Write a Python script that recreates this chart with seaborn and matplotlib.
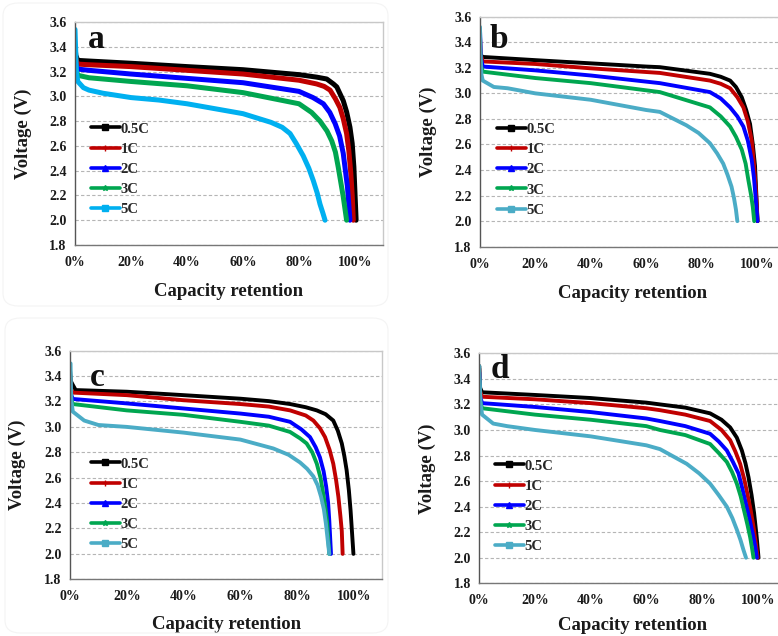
import matplotlib
matplotlib.use("Agg")
import matplotlib.pyplot as plt
import seaborn as sns
import pandas as pd
from matplotlib.lines import Line2D
from matplotlib.patches import FancyBboxPatch

# ---------------- data ----------------
rates = ["0.5C", "1C", "2C", "3C", "5C"]

A_x_05 = [0, 0.003, 0.01, 0.05, 0.2, 0.4, 0.6, 0.8, 0.863, 0.899, 0.923, 0.935, 0.958, 0.97, 0.982, 0.99, 0.996, 1.004]
A_v_05 = [3.40, 3.33, 3.29, 3.285, 3.267, 3.24, 3.215, 3.175, 3.155, 3.14, 3.10, 3.076, 2.965, 2.875, 2.75, 2.62, 2.43, 2.0]
A_x_1 = [0, 0.003, 0.01, 0.05, 0.2, 0.4, 0.6, 0.8, 0.863, 0.89, 0.911, 0.93, 0.946, 0.958, 0.97, 0.978, 0.985, 0.99, 0.994]
A_v_1 = [3.37, 3.30, 3.26, 3.255, 3.24, 3.21, 3.18, 3.13, 3.10, 3.08, 3.05, 2.98, 2.91, 2.82, 2.70, 2.56, 2.38, 2.20, 2.0]
A_x_2 = [0, 0.003, 0.01, 0.05, 0.2, 0.4, 0.6, 0.8, 0.85, 0.887, 0.91, 0.929, 0.945, 0.958, 0.973, 0.982]
A_v_2 = [3.33, 3.26, 3.22, 3.21, 3.18, 3.145, 3.11, 3.04, 2.99, 2.94, 2.87, 2.78, 2.68, 2.54, 2.27, 2.0]
A_x_3 = [0, 0.003, 0.01, 0.05, 0.2, 0.4, 0.6, 0.8, 0.845, 0.875, 0.90, 0.917, 0.93, 0.94, 0.958, 0.97]
A_v_3 = [3.32, 3.22, 3.17, 3.15, 3.12, 3.085, 3.03, 2.94, 2.87, 2.80, 2.72, 2.64, 2.55, 2.43, 2.19, 2.0]
A_x_5 = [0, 0.002, 0.005, 0.01, 0.03, 0.05, 0.1, 0.2, 0.3, 0.4, 0.5, 0.6, 0.7, 0.74, 0.768, 0.79, 0.815, 0.835, 0.851, 0.865, 0.875, 0.885, 0.893]
A_v_5 = [3.54, 3.40, 3.20, 3.12, 3.07, 3.05, 3.025, 2.99, 2.97, 2.94, 2.90, 2.86, 2.79, 2.75, 2.70, 2.62, 2.52, 2.42, 2.32, 2.22, 2.13, 2.06, 2.0]

B_x_05 = [0, 0.003, 0.01, 0.2, 0.4, 0.6, 0.65, 0.831, 0.87, 0.904, 0.925, 0.946, 0.962, 0.976, 0.986, 0.994, 1.003]
B_v_05 = [3.33, 3.30, 3.285, 3.26, 3.235, 3.21, 3.205, 3.153, 3.13, 3.10, 3.05, 2.97, 2.87, 2.76, 2.60, 2.43, 2.0]
B_x_1 = [0, 0.003, 0.01, 0.2, 0.4, 0.65, 0.831, 0.87, 0.904, 0.93, 0.952, 0.968, 0.982, 0.99, 0.997, 1.003]
B_v_1 = [3.45, 3.30, 3.25, 3.23, 3.196, 3.16, 3.10, 3.075, 3.04, 2.97, 2.89, 2.78, 2.63, 2.45, 2.24, 2.0]
B_x_2 = [0, 0.003, 0.01, 0.2, 0.4, 0.65, 0.831, 0.87, 0.904, 0.93, 0.952, 0.968, 0.982, 0.99, 0.996, 1.003]
B_v_2 = [3.50, 3.28, 3.21, 3.18, 3.14, 3.08, 3.01, 2.96, 2.89, 2.82, 2.74, 2.63, 2.48, 2.34, 2.19, 2.0]
B_x_3 = [0, 0.003, 0.01, 0.2, 0.4, 0.65, 0.831, 0.87, 0.904, 0.925, 0.946, 0.96, 0.97, 0.98, 0.986, 0.991]
B_v_3 = [3.35, 3.22, 3.17, 3.12, 3.08, 3.01, 2.89, 2.82, 2.74, 2.66, 2.56, 2.45, 2.32, 2.20, 2.11, 2.0]
B_x_5 = [0, 0.002, 0.005, 0.01, 0.05, 0.1, 0.2, 0.4, 0.6, 0.65, 0.746, 0.79, 0.831, 0.857, 0.879, 0.895, 0.909, 0.918, 0.925, 0.930]
B_v_5 = [3.52, 3.30, 3.15, 3.10, 3.05, 3.04, 3.0, 2.95, 2.87, 2.855, 2.75, 2.69, 2.61, 2.53, 2.45, 2.36, 2.27, 2.18, 2.09, 2.0]

C_x_05 = [0, 0.003, 0.01, 0.02, 0.2, 0.4, 0.6, 0.7, 0.775, 0.83, 0.869, 0.9, 0.927, 0.943, 0.957, 0.966, 0.974, 0.982, 0.988, 0.998]
C_v_05 = [3.45, 3.36, 3.33, 3.29, 3.277, 3.25, 3.222, 3.203, 3.18, 3.155, 3.13, 3.10, 3.05, 2.97, 2.87, 2.77, 2.66, 2.50, 2.34, 2.0]
C_x_1 = [0, 0.003, 0.01, 0.2, 0.4, 0.6, 0.7, 0.775, 0.83, 0.857, 0.88, 0.898, 0.914, 0.927, 0.937, 0.945, 0.952, 0.957, 0.960]
C_v_1 = [3.40, 3.30, 3.27, 3.25, 3.21, 3.18, 3.16, 3.13, 3.09, 3.05, 2.99, 2.92, 2.82, 2.71, 2.58, 2.45, 2.30, 2.18, 2.0]
C_x_2 = [0, 0.003, 0.01, 0.2, 0.4, 0.6, 0.7, 0.775, 0.815, 0.845, 0.865, 0.880, 0.893, 0.902, 0.909, 0.913, 0.919]
C_v_2 = [3.35, 3.26, 3.22, 3.185, 3.145, 3.105, 3.08, 3.04, 2.98, 2.92, 2.84, 2.76, 2.65, 2.53, 2.40, 2.26, 2.0]
C_x_3 = [0, 0.003, 0.01, 0.2, 0.4, 0.6, 0.7, 0.775, 0.81, 0.833, 0.853, 0.869, 0.882, 0.892, 0.9, 0.906, 0.913]
C_v_3 = [3.30, 3.22, 3.18, 3.13, 3.095, 3.04, 3.01, 2.96, 2.91, 2.87, 2.80, 2.71, 2.60, 2.47, 2.35, 2.24, 2.0]
C_x_5 = [0.002, 0.003, 0.005, 0.01, 0.05, 0.1, 0.2, 0.4, 0.6, 0.716, 0.77, 0.810, 0.835, 0.857, 0.872, 0.884, 0.894, 0.901, 0.907, 0.913]
C_v_5 = [3.50, 3.35, 3.20, 3.12, 3.05, 3.015, 3.0, 2.955, 2.90, 2.83, 2.78, 2.72, 2.67, 2.61, 2.54, 2.45, 2.35, 2.24, 2.12, 2.0]

D_x_05 = [0, 0.003, 0.01, 0.2, 0.4, 0.6, 0.649, 0.74, 0.829, 0.87, 0.901, 0.925, 0.943, 0.956, 0.967, 0.978, 0.987, 0.996, 1.003]
D_v_05 = [3.50, 3.33, 3.295, 3.274, 3.25, 3.214, 3.20, 3.175, 3.13, 3.08, 3.02, 2.94, 2.84, 2.74, 2.63, 2.49, 2.35, 2.17, 2.0]
D_x_1 = [0, 0.003, 0.01, 0.2, 0.4, 0.6, 0.649, 0.74, 0.829, 0.87, 0.901, 0.92, 0.937, 0.951, 0.963, 0.975, 0.985, 0.993, 1.0]
D_v_1 = [3.48, 3.30, 3.26, 3.24, 3.21, 3.17, 3.155, 3.12, 3.07, 3.00, 2.92, 2.83, 2.735, 2.62, 2.50, 2.37, 2.24, 2.12, 2.0]
D_x_2 = [0, 0.003, 0.01, 0.2, 0.4, 0.6, 0.649, 0.74, 0.829, 0.86, 0.889, 0.911, 0.931, 0.945, 0.958, 0.971, 0.982, 0.991, 0.997]
D_v_2 = [3.45, 3.26, 3.21, 3.18, 3.14, 3.09, 3.07, 3.03, 2.97, 2.91, 2.84, 2.75, 2.66, 2.54, 2.42, 2.30, 2.19, 2.09, 2.0]
D_x_3 = [0, 0.003, 0.01, 0.2, 0.4, 0.6, 0.649, 0.74, 0.829, 0.86, 0.889, 0.908, 0.925, 0.939, 0.951, 0.963, 0.973, 0.98, 0.985]
D_v_3 = [3.40, 3.22, 3.17, 3.12, 3.08, 3.03, 3.0, 2.96, 2.89, 2.82, 2.75, 2.67, 2.58, 2.48, 2.37, 2.26, 2.16, 2.07, 2.0]
D_x_5 = [0, 0.002, 0.005, 0.01, 0.05, 0.1, 0.2, 0.4, 0.6, 0.649, 0.745, 0.79, 0.829, 0.86, 0.889, 0.909, 0.925, 0.938, 0.949, 0.958]
D_v_5 = [3.50, 3.35, 3.20, 3.12, 3.05, 3.03, 3.0, 2.95, 2.88, 2.85, 2.735, 2.66, 2.58, 2.49, 2.40, 2.31, 2.22, 2.14, 2.06, 2.0]

y_ticks = [1.8, 2.0, 2.2, 2.4, 2.6, 2.8, 3.0, 3.2, 3.4, 3.6]
x_ticks = [0, 0.2, 0.4, 0.6, 0.8, 1.0]
x_tick_labels = ["0%", "20%", "40%", "60%", "80%", "100%"]
panel_letters = ["a", "b", "c", "d"]

# ---------------- style ----------------
sns.set_theme(style="white")
plt.rcParams["font.family"] = ["Liberation Serif", "DejaVu Serif"]
plt.rcParams["font.weight"] = "bold"

W, H = 778, 636
fig = plt.figure(figsize=(W / 100, H / 100), dpi=100)

colors_std = ["#000000", "#c00000", "#0000ff", "#00a650", "#4bacc6"]
colors_a = ["#000000", "#c00000", "#0000ff", "#00a650", "#00b0f0"]
markers = ["s", "+", "^", "*", "s"]

panels = [
    dict(data=[(A_x_05, A_v_05), (A_x_1, A_v_1), (A_x_2, A_v_2), (A_x_3, A_v_3), (A_x_5, A_v_5)],
         geom=(75, 280, 22, 245), colors=colors_a, lw=3.6,
         letter=(0.045, 3.39), leg=(0.056, 2.79), xlab=-0.17),
    dict(data=[(B_x_05, B_v_05), (B_x_1, B_v_1), (B_x_2, B_v_2), (B_x_3, B_v_3), (B_x_5, B_v_5)],
         geom=(480, 276.7, 16.7, 246.7), colors=colors_std, lw=2.8,
         letter=(0.035, 3.355), leg=(0.06, 2.77), xlab=-0.165),
    dict(data=[(C_x_05, C_v_05), (C_x_1, C_v_1), (C_x_2, C_v_2), (C_x_3, C_v_3), (C_x_5, C_v_5)],
         geom=(70, 284, 350.7, 579.3), colors=colors_std, lw=2.8,
         letter=(0.07, 3.32), leg=(0.073, 2.76), xlab=-0.16),
    dict(data=[(D_x_05, D_v_05), (D_x_1, D_v_1), (D_x_2, D_v_2), (D_x_3, D_v_3), (D_x_5, D_v_5)],
         geom=(479.3, 278.4, 353.3, 583.3), colors=colors_std, lw=2.8,
         letter=(0.04, 3.405), leg=(0.056, 2.77), xlab=-0.145),
]

# very faint rounded panel frames
for (x0, y0, x1, y1) in [(3, 3, 388, 306), (5, 318, 388, 633)]:
    fig.patches.append(FancyBboxPatch((x0 / W, 1 - y1 / H), (x1 - x0) / W, (y1 - y0) / H,
                                      boxstyle="round,pad=0,rounding_size=0.02",
                                      transform=fig.transFigure, fill=False,
                                      edgecolor="#f4f4f4", linewidth=0.8))

for p, letter in zip(panels, panel_letters):
    left, unit, top, bottom = p["geom"]
    right = left + 1.1 * unit
    ax = fig.add_axes([left / W, 1 - bottom / H, (right - left) / W, (bottom - top) / H])
    rows = []
    for rate, (xs, vs) in zip(rates, p["data"]):
        for xv, vv in zip(xs, vs):
            rows.append({"cap": xv, "V": vv, "rate": rate})
    df = pd.DataFrame(rows)
    for rate, col in zip(rates, p["colors"]):
        sns.lineplot(data=df[df["rate"] == rate], x="cap", y="V", ax=ax, color=col,
                     lw=p["lw"], sort=False, estimator=None, legend=False)
    ax.set_xlim(0, 1.1)
    ax.set_ylim(1.8, 3.6)
    ax.set_yticks(y_ticks)
    ax.set_yticklabels([f"{t:.1f}" for t in y_ticks])
    ax.set_xticks(x_ticks)
    ax.set_xticklabels(x_tick_labels)
    ax.tick_params(axis="both", direction="in", labelsize=10, length=3, width=0.8,
                   colors="#444444", labelcolor="#1a1a1a")
    ax.tick_params(axis="y", pad=6)
    ax.tick_params(axis="x", pad=8)
    for lab in ax.get_xticklabels() + ax.get_yticklabels():
        lab.set_fontweight("bold")
    ax.set_axisbelow(True)
    ax.yaxis.grid(True, linestyle=(0, (3, 2)), color="#b5b5b5", linewidth=0.8)
    ax.xaxis.grid(False)
    ax.spines["left"].set_color("#555555")
    ax.spines["bottom"].set_color("#777777")
    ax.spines["top"].set_color("#c8c8c8")
    ax.spines["right"].set_color("#c8c8c8")
    for s in ax.spines.values():
        s.set_linewidth(1.0)
    ax.set_xlabel("Capacity retention", fontsize=13.5, fontweight="bold", color="#1a1a1a")
    ax.set_ylabel("Voltage (V)", fontsize=13.5, fontweight="bold", color="#1a1a1a")
    ax.yaxis.set_label_coords(-0.14, 0.5)
    ax.xaxis.set_label_coords(0.5, p["xlab"])
    ax.text(p["letter"][0], p["letter"][1], letter, fontsize=24, fontweight="bold",
            color="#111111", ha="left", va="baseline")
    handles = [Line2D([0], [0], color=c, lw=2.6, marker=m, markersize=4,
                      markeredgewidth=1.0) for c, m in zip(p["colors"], markers)]
    ax.legend(handles, rates, loc="upper left", bbox_to_anchor=p["leg"],
              bbox_transform=ax.transData, frameon=False, borderpad=0,
              borderaxespad=0, handlelength=2.0, handletextpad=0.05,
              labelspacing=0.48, prop={"family": "Liberation Serif", "weight": "bold", "size": 10.5})

fig.savefig("out.png", dpi=100)
